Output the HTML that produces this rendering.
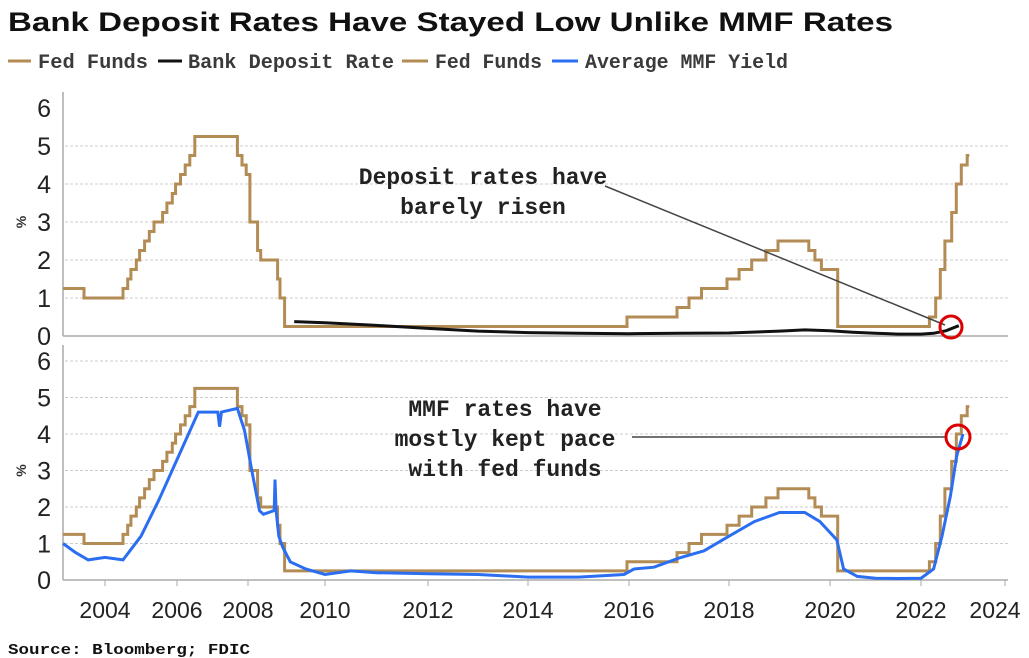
<!DOCTYPE html>
<html><head><meta charset="utf-8"><style>
body{margin:0;background:#fff;width:1029px;height:658px;overflow:hidden;font-family:"Liberation Sans",sans-serif}
svg{position:absolute;left:0;top:0}
</style></head><body>
<svg id="c" width="1029" height="658">
<text x="8" y="31" font-family="Liberation Sans, sans-serif" font-weight="bold" font-size="27" textLength="885" lengthAdjust="spacingAndGlyphs" fill="#111">Bank Deposit Rates Have Stayed Low Unlike MMF Rates</text>
<g font-family="Liberation Mono, monospace" font-size="20" font-weight="bold" fill="#3a3a3a">
<g><line x1="8" y1="61" x2="31" y2="61" stroke="#b38b55" stroke-width="3"/><text x="38" y="68" textLength="110" lengthAdjust="spacingAndGlyphs">Fed Funds</text></g>
<g><line x1="158" y1="61" x2="182" y2="61" stroke="#111" stroke-width="3"/><text x="188" y="68" textLength="206" lengthAdjust="spacingAndGlyphs">Bank Deposit Rate</text></g>
<g><line x1="402" y1="61" x2="428" y2="61" stroke="#b38b55" stroke-width="3"/><text x="435" y="68" textLength="107" lengthAdjust="spacingAndGlyphs">Fed Funds</text></g>
<g><line x1="552" y1="61" x2="578" y2="61" stroke="#2b6ef2" stroke-width="3"/><text x="585" y="68" textLength="203" lengthAdjust="spacingAndGlyphs">Average MMF Yield</text></g>
</g>
<g id="plot"></g>
<text x="8" y="654" font-family="Liberation Mono, monospace" font-weight="bold" font-size="15" textLength="242" lengthAdjust="spacingAndGlyphs" fill="#111">Source: Bloomberg; FDIC</text>
</svg>
<script>
const ffDates=[2003.0,2003.5,2004.5,2004.63,2004.72,2004.87,2004.96,2005.1,2005.23,2005.36,2005.6,2005.72,2005.87,2005.96,2006.1,2006.23,2006.36,2006.5,2007.7,2007.83,2007.95,2008.05,2008.25,2008.33,2008.77,2008.83,2008.95,2015.96,2016.96,2017.2,2017.45,2017.96,2018.2,2018.45,2018.73,2018.97,2019.58,2019.7,2019.83,2020.17,2022.2,2022.35,2022.46,2022.57,2022.73,2022.84,2022.96,2023.1];
const ffValues=[1.25,1.0,1.25,1.5,1.75,2.0,2.25,2.5,2.75,3.0,3.25,3.5,3.75,4.0,4.25,4.5,4.75,5.25,4.75,4.5,4.25,3.0,2.25,2.0,1.5,1.0,0.25,0.5,0.75,1.0,1.25,1.5,1.75,2.0,2.25,2.5,2.25,2.0,1.75,0.25,0.5,1.0,1.75,2.5,3.25,4.0,4.5,4.75];
const depDates=[2009.2,2010,2011,2012,2013,2014,2015,2016,2017,2018,2019,2019.5,2020,2020.5,2021,2021.5,2022,2022.3,2022.6,2022.9];
const depValues=[0.38,0.35,0.28,0.2,0.13,0.09,0.07,0.06,0.07,0.08,0.13,0.16,0.14,0.1,0.07,0.05,0.05,0.07,0.14,0.27];
const mmfDates=[2003.0,2003.3,2003.6,2004.0,2004.5,2005.0,2005.5,2006.0,2006.6,2007.15,2007.2,2007.25,2007.7,2007.9,2008.1,2008.3,2008.4,2008.68,2008.7,2008.73,2008.8,2008.9,2009.1,2009.5,2010.0,2010.5,2011.0,2012.0,2013.0,2014.0,2015.0,2015.9,2016.1,2016.5,2017.0,2017.5,2018.0,2018.5,2019.0,2019.5,2019.8,2020.0,2020.15,2020.3,2020.6,2021.0,2021.5,2022.0,2022.3,2022.5,2022.7,2022.85,2023.0];
const mmfValues=[1.0,0.75,0.55,0.62,0.55,1.2,2.2,3.3,4.6,4.6,4.2,4.6,4.7,4.1,3.0,1.9,1.8,1.9,2.75,1.9,1.2,0.9,0.5,0.3,0.15,0.25,0.2,0.17,0.15,0.08,0.08,0.15,0.3,0.35,0.6,0.8,1.2,1.6,1.85,1.85,1.6,1.3,1.1,0.3,0.1,0.05,0.04,0.05,0.3,1.2,2.3,3.4,4.0];
const xTicks=[2004,2006,2008,2010,2012,2014,2016,2018,2020,2022,2024];
const yTicks=[0,1,2,3,4,5,6];
const xKnotsY=[2003,2004,2006,2008,2010,2012,2014,2016,2018,2020,2022,2024];
const xKnotsP=[63,105,177,248,325,428,528,629,729,830,921,1005];
function X(t){for(let i=0;i<xKnotsY.length-1;i++){if(t<=xKnotsY[i+1]||i==xKnotsY.length-2){const f=(t-xKnotsY[i])/(xKnotsY[i+1]-xKnotsY[i]);return xKnotsP[i]+f*(xKnotsP[i+1]-xKnotsP[i]);}}}
const pTop={y0:336,unit:38},pBot={y0:580,unit:36.5};
function Y(p,v){return p.y0-v*p.unit;}
const NS="http://www.w3.org/2000/svg",g=document.getElementById('plot');
function el(tag,attrs,parent){const e=document.createElementNS(NS,tag);for(const k in attrs)e.setAttribute(k,attrs[k]);(parent||g).appendChild(e);return e;}
function stepPath(p,ds,vs){let d='';for(let i=0;i<ds.length;i++){const x=X(ds[i]).toFixed(1);if(i==0)d+='M'+x+','+Y(p,vs[i]).toFixed(1);else d+='H'+x+'V'+Y(p,vs[i]).toFixed(1);}d+='H'+X(ds[ds.length-1]+0.05).toFixed(1);return d;}
function linePath(p,ds,vs){return ds.map((t,i)=>(i?'L':'M')+X(t).toFixed(1)+','+Y(p,vs[i]).toFixed(1)).join('');}
[[pTop,'top',92],[pBot,'bottom',345]].forEach(([p,nm,yt])=>{
  for(const v of yTicks){
    if(v>0&&!(nm=='top'&&v==6)){const gl=el('line',{x1:65,x2:1008,y1:Y(p,v),y2:Y(p,v),stroke:'#ccc','stroke-dasharray':'3,2','stroke-width':1});
    
    }
    const t=el('text',{x:51,y:Y(p,v)+9,'text-anchor':'end','font-size':25,fill:'#222'});t.textContent=v;
    
    
  }
  const ya=el('line',{x1:63,x2:63,y1:yt,y2:p.y0,stroke:'#aaa','stroke-width':1.5});
  
  
  const xa=el('line',{x1:63,x2:1008,y1:p.y0,y2:p.y0,stroke:'#aaa','stroke-width':1.5});
  
  
  const cy=p.y0-3*p.unit;
  const u=el('text',{x:22,y:cy+4,'text-anchor':'middle','font-size':14,'font-weight':'bold',fill:'#333',transform:'rotate(-90 22 '+cy+')'});u.textContent='%';
  
  
});
for(const t of xTicks){
  const tk=el('line',{x1:X(t),x2:X(t),y1:580,y2:586,stroke:'#aaa'});
  
  
  const lb=el('text',{x:Math.min(X(t),995),y:618,'text-anchor':'middle','font-size':23,fill:'#222'});lb.textContent=t;
  
  
}
const f1=el('path',{d:stepPath(pTop,ffDates,ffValues),fill:'none',stroke:'#b38b55','stroke-width':3});


const dp=el('path',{d:linePath(pTop,depDates,depValues),fill:'none',stroke:'#111','stroke-width':3});


const f2=el('path',{d:stepPath(pBot,ffDates,ffValues),fill:'none',stroke:'#b38b55','stroke-width':3});


const mm=el('path',{d:linePath(pBot,mmfDates,mmfValues),fill:'none',stroke:'#2b6ef2','stroke-width':3});


const a1=el('line',{x1:605,y1:186,x2:945,y2:325,stroke:'#444','stroke-width':1.5});


const c1=el('circle',{cx:951,cy:327,r:11,fill:'none',stroke:'#d00','stroke-width':3});


const a2=el('line',{x1:632,y1:437,x2:946,y2:437,stroke:'#444','stroke-width':1.5});


const c2=el('circle',{cx:958,cy:437,r:12,fill:'none',stroke:'#d00','stroke-width':3});


[['Deposit rates have',483,184],['barely risen',483,214]].forEach(([s,x,y])=>{const t=el('text',{x:x,y:y,'text-anchor':'middle','font-family':'Liberation Mono, monospace','font-size':23,'font-weight':'bold',fill:'#222'});t.textContent=s;

});
[['MMF rates have',505,416],['mostly kept pace',505,446],['with fed funds',505,476]].forEach(([s,x,y])=>{const t=el('text',{x:x,y:y,'text-anchor':'middle','font-family':'Liberation Mono, monospace','font-size':23,'font-weight':'bold',fill:'#222'});t.textContent=s;

});
</script>
</body></html>
